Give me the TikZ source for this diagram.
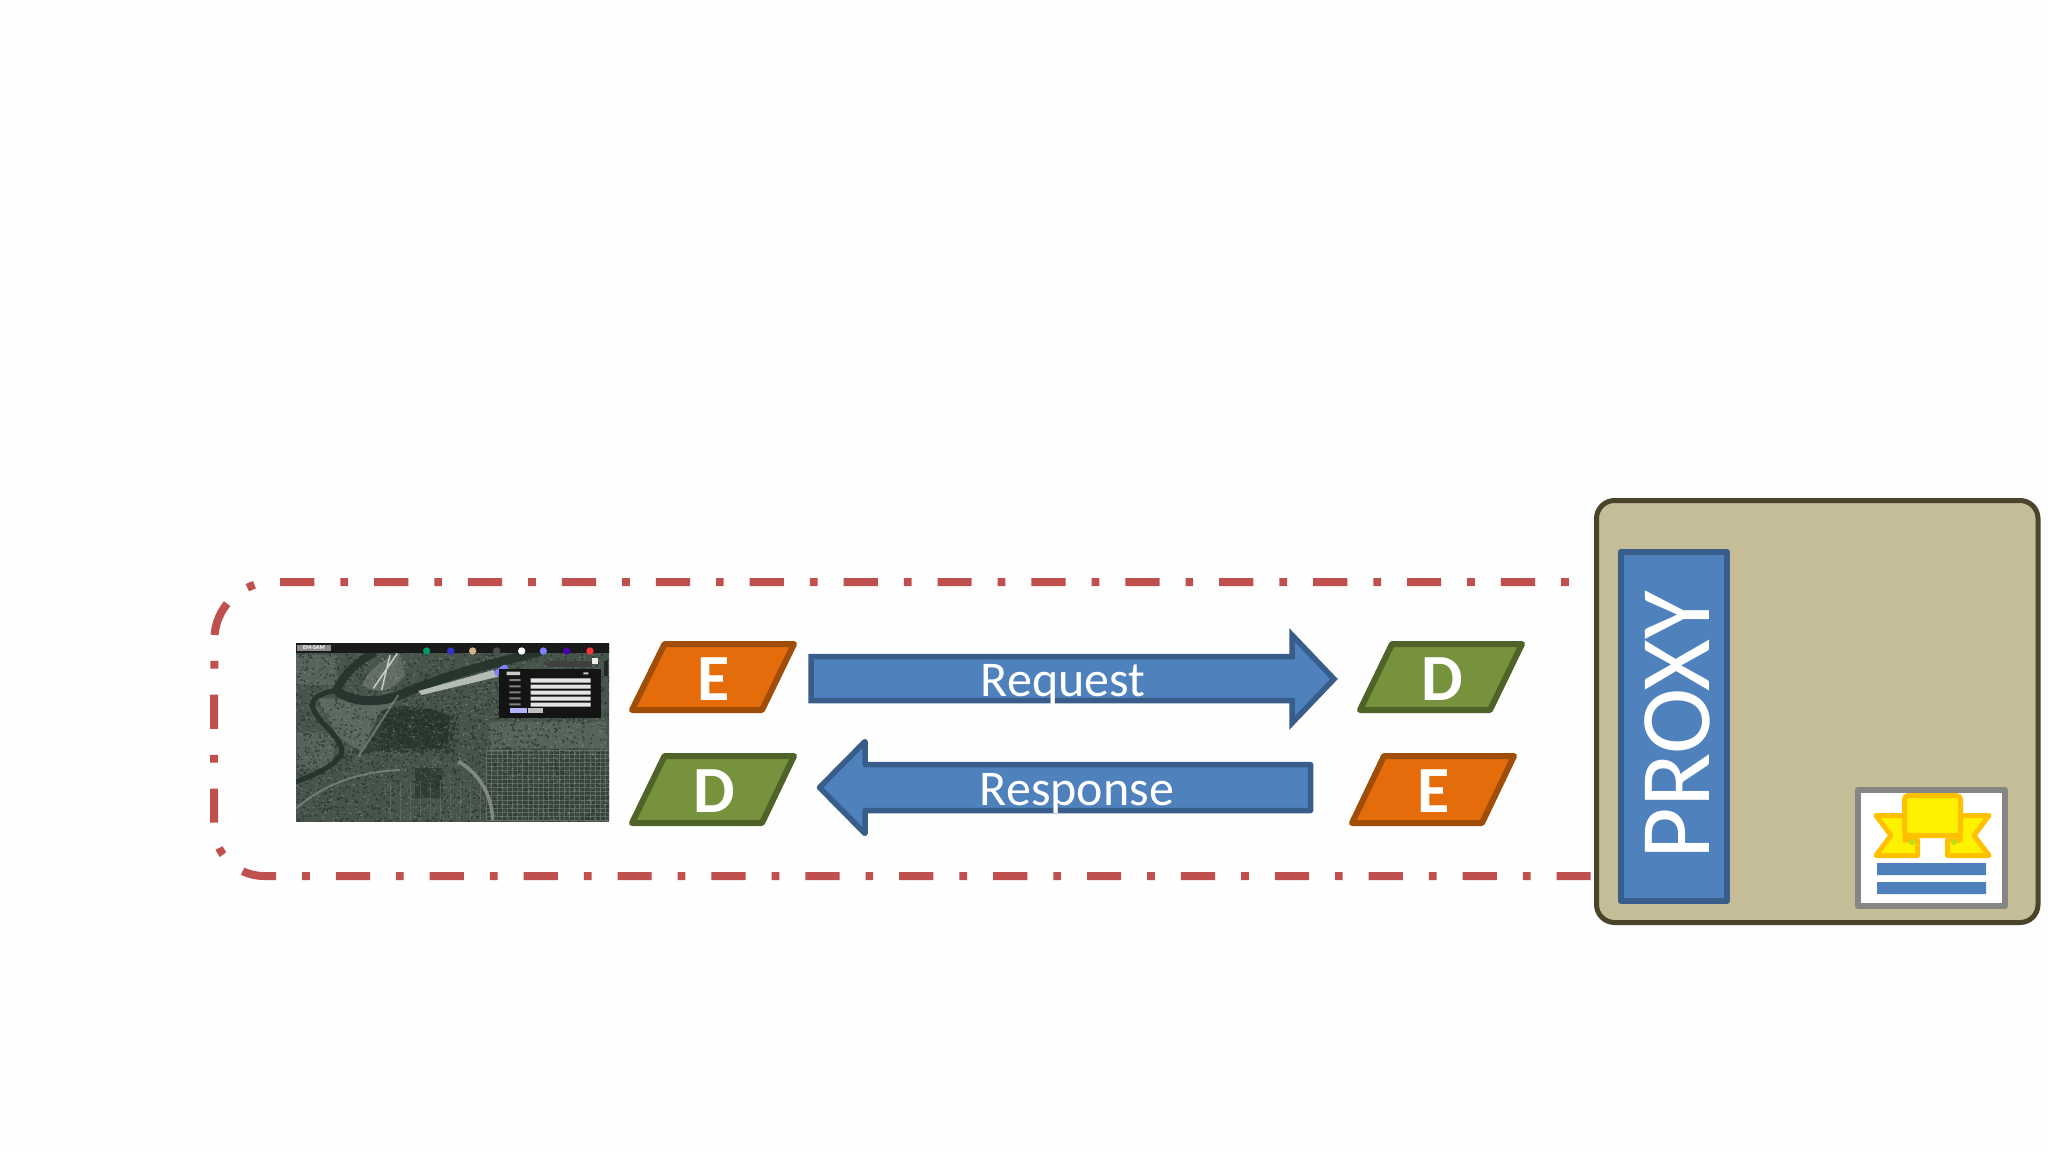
\documentclass[tikz,border=0pt]{standalone}
\usepackage{fontspec}
\setmainfont{Carlito}
\definecolor{blueF}{HTML}{4F81BD}
\definecolor{blueS}{HTML}{385D8A}
\definecolor{orangeF}{HTML}{E46C0A}
\definecolor{orangeS}{HTML}{A04D08}
\definecolor{greenF}{HTML}{76923C}
\definecolor{greenS}{HTML}{4F6228}
\definecolor{dashC}{HTML}{C0504D}
\definecolor{proxyF}{HTML}{C4BD97}
\definecolor{proxyS}{HTML}{4A452A}
\definecolor{certS}{HTML}{858585}
\definecolor{ribS}{HTML}{FFC000}
\definecolor{mapA}{HTML}{46544B}
\definecolor{mapB}{HTML}{1F2B25}
\definecolor{mapC}{HTML}{8E978F}
\definecolor{mapD}{HTML}{6F7B72}
\definecolor{river}{HTML}{26352D}
\tikzset{
  x=1pt,y=-1pt,
  paraE/.style={fill=orangeF,draw=orangeS,line width=6pt,line join=round},
  paraD/.style={fill=greenF,draw=greenS,line width=6pt,line join=round},
  letter/.style={text=white,inner sep=0pt,font=\bfseries\fontsize{66}{70}\selectfont},
  blockarrow/.style={fill=blueF,draw=blueS,line width=5.5pt},
  arrowtext/.style={text=white,inner sep=0pt,anchor=base,font=\fontsize{50}{60}\selectfont},
  zone/.style={draw=dashC,line width=8pt,dash pattern=on 34.2pt off 26pt on 7.7pt off 26pt},
}
\begin{document}
\begin{tikzpicture}
\useasboundingbox (0,0) rectangle (2048,1152);
\fill[white!99.5!black] (0,0) rectangle (2048,1152);

% dashed zone
\draw[zone] (1590.7,876) -- (264,876) arc[start angle=90,end angle=180,radius=50]
  -- (214.3,640) arc[start angle=180,end angle=270,radius=58] -- (1592,582);

% map screenshot
\begin{scope}
\clip (296,643) rectangle (609,821);
\begin{scope}[shift={(290,635)},x=0.33333pt,y=-0.33333pt]
\fill[mapA] (0,0) rectangle (990,570);
% lighter and darker districts
\fill[mapD,opacity=.55] (85,190) -- (320,190) -- (210,350) -- (140,300) -- cycle;
\fill[mapD,opacity=.4] (18,60) rectangle (140,150) (20,290) rectangle (130,400) (600,260) rectangle (950,340);
\fill[mapB,opacity=.5] (270,230) .. controls (330,200) and (430,210) .. (480,250) -- (470,340) -- (290,340) -- (210,360) -- cycle;
\fill[mapB,opacity=.5] (375,400) rectangle (455,490);
\fill[mapB,opacity=.35] (590,350) rectangle (960,555);
\pgfmathsetseed{11}
\fill[mapB,opacity=.6] \foreach \i in {1,...,2200}{ ({18+940*rnd},{50+510*rnd}) rectangle ++(5,5) };
\fill[mapC,opacity=.5] \foreach \i in {1,...,2000}{ ({18+940*rnd},{50+510*rnd}) rectangle ++(4,3) };
\fill[mapB,opacity=.55] \foreach \i in {1,...,500}{ ({270+220*rnd},{220+130*rnd}) rectangle ++(7,6) };
% street grid
\draw[mapC,line width=1pt,opacity=.4] \foreach \i in {0,...,24}{ (590+\i*15.5,345) -- ++(0,210) };
\draw[mapC,line width=1pt,opacity=.4] \foreach \i in {0,...,17}{ (590,345+\i*12.5) -- ++(370,0) };
\draw[mapC,line width=.8pt,opacity=.3] \foreach \i in {0,...,9}{ (300+\i*30,440) -- ++(0,115) };
% rivers
\draw[river,line width=5pt,line cap=round] (18,440) .. controls (90,415) and (165,375) .. (155,340)
  .. controls (140,290) and (65,250) .. (68,205) .. controls (72,180) and (110,172) .. (140,165);
\draw[river,line width=9pt,line cap=round] (140,165) .. controls (180,205) and (270,205) .. (330,180)
  .. controls (440,130) and (600,85) .. (745,52);
\draw[river,line width=8pt] (140,165) .. controls (165,110) and (210,75) .. (255,52);
% airfield, light strips, highway
\fill[mapC,opacity=.4] (215,150) .. controls (240,100) and (280,70) .. (330,55) -- (345,120) .. controls (310,170) and (260,180) .. (215,150) -- cycle;
\draw[white!70!mapA,line width=1.5pt] (250,160) -- (322,55) (275,165) -- (300,60);
\fill[white!60!mapA] (385,168) -- (610,105) -- (625,125) -- (395,180) -- cycle;
\draw[mapC,line width=3.5pt,opacity=.8] (505,380) .. controls (560,410) and (605,470) .. (608,555);
\draw[mapC,line width=2pt,opacity=.6] (325,180) -- (205,365) (18,520) .. controls (100,450) and (200,410) .. (330,405);
% top bar
\fill[black!90] (0,25) rectangle (990,53);
\fill[white!55!black] (22,30) rectangle (122,47);
\node (logo) [text=white,inner sep=0pt,font=\bfseries\fontsize{6}{6}\selectfont] at (72,38.5) {EM-SAM};
\foreach \cx/\col in {410/green!60!blue,482/blue!60!gray,548/brown!60!white,620/gray!60!black,695/white,760/blue!50!white,830/violet!60!blue,900/red!80!white}
  \fill[\col] (\cx,48) circle[radius=11];
\fill[gray!50!black] (775,78) rectangle (905,95);
\fill[white!85!gray] (905,70) rectangle (925,88);
\fill[black!85] (942,78) rectangle (955,122);
\draw[blue!50!white,line width=6pt,line cap=round] (622,113) -- (645,98);
% dialog
\fill[black!92] (628,102) rectangle (932,248);
\fill[white!80!black] (650,110) rectangle (690,120) (880,112) rectangle (895,118);
\fill[white!90!black] (722,130) rectangle (902,143) (722,149) rectangle (902,161) (722,167) rectangle (902,179) (722,185) rectangle (902,197) (722,203) rectangle (902,215);
\fill[white!50!black] (658,132) rectangle (692,138) (658,151) rectangle (692,157) (658,169) rectangle (692,175) (658,187) rectangle (692,193) (658,205) rectangle (692,211);
\fill[blue!30!white] (660,220) rectangle (710,235);
\fill[white!75!black] (715,220) rectangle (758,235);
\end{scope}
\end{scope}

% encrypt / decrypt boxes
\draw[paraE] (664.5,644) -- (794,644) -- (762,710) -- (632,710) -- cycle;
\node (eL) [letter] at (713.5,679) {E};
\draw[paraD] (664.5,756) -- (794,756) -- (762,823) -- (632,823) -- cycle;
\node (dL) [letter] at (714,791) {D};
\draw[paraD] (1392,644) -- (1522,644) -- (1490,710) -- (1360,710) -- cycle;
\node (dR) [letter] at (1442,679) {D};
\draw[paraE] (1384,756) -- (1514,756) -- (1482,823) -- (1352,823) -- cycle;
\node (eR) [letter] at (1434,791) {E};

% block arrows
\draw[blockarrow,line join=miter] (811,656.5) -- (1292,656.5) -- (1292,635) -- (1334,679) -- (1292,723) -- (1292,700.5) -- (811,700.5) -- cycle;
\node (req) [arrowtext] at (1063,696) {Request};
\draw[blockarrow,line join=round] (1310.5,764.5) -- (865,764.5) -- (865,741.5) -- (819.5,787.5) -- (865,833.5) -- (865,810.5) -- (1310.5,810.5) -- cycle;
\node (resp) [arrowtext] at (1077,805) {Response};

% proxy box
\draw[fill=proxyF,draw=proxyS,line width=5pt,rounded corners=18pt] (1596.5,500.5) rectangle (2038,922.5);
\draw[fill=blueF,draw=blueS,line width=6pt,line join=round] (1621,552) rectangle (1727,901);
\node (proxy) [text=white,inner sep=0pt,anchor=base,rotate=90,font=\fontsize{100}{110}\selectfont] at (1709,725) {PROXY};

% certificate
\draw[fill=white,draw=certS,line width=6pt,line join=round] (1858,790) rectangle (2005,906);
\fill[blueF] (1877,863) rectangle (1986,875) (1877,882) rectangle (1986,894);
\draw[fill=yellow,draw=ribS,line width=5pt,line join=round]
  (1876,815.5) -- (1905,815.5) -- (1905,840) -- (1917.5,840) -- (1917.5,855.5) -- (1876,855.5) -- (1891,835.5) -- cycle;
\draw[fill=yellow,draw=ribS,line width=5pt,line join=round]
  (1989,815.5) -- (1960,815.5) -- (1960,840) -- (1947.5,840) -- (1947.5,855.5) -- (1989,855.5) -- (1974,835.5) -- cycle;
\draw[fill=yellow,draw=ribS,line width=5pt,rounded corners=4pt] (1904.5,795.5) rectangle (1960.5,835.5);
\fill[yellow!75!green] (1912,842) circle[radius=3] (1954,842) circle[radius=3];
\end{tikzpicture}
\end{document}
